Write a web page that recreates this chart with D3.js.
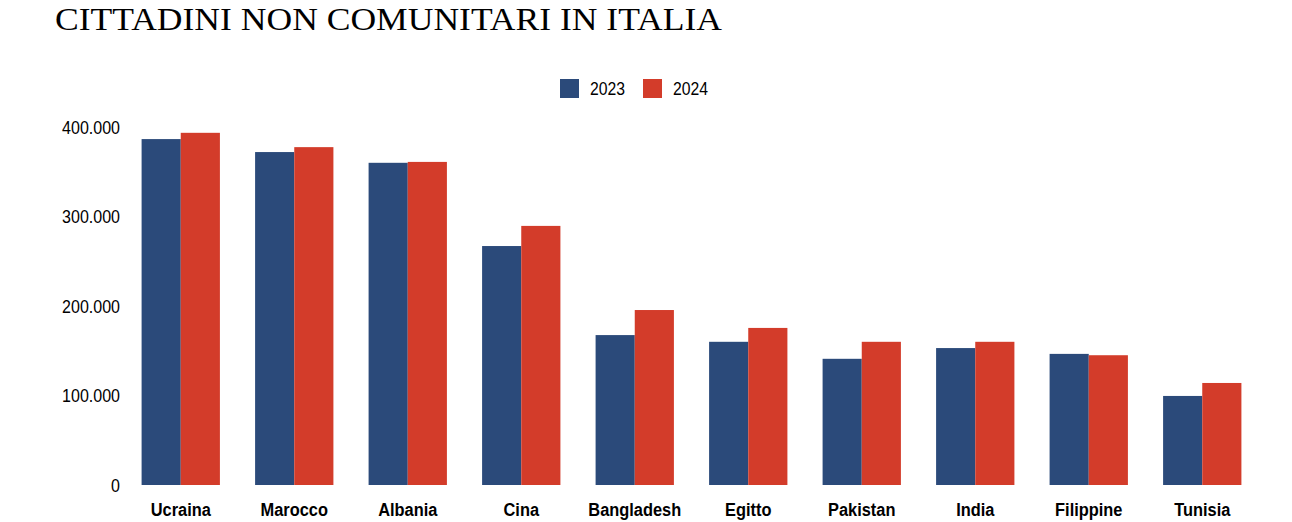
<!DOCTYPE html>
<html>
<head>
<meta charset="utf-8">
<script src="https://cdn.jsdelivr.net/npm/d3@7"></script>
<style>
  body { margin: 0; background: #fff; }
  svg text { fill: #000; }
</style>
</head>
<body>
<svg width="1292" height="522"></svg>
<script>
// Data
var countries = ["Ucraina", "Marocco", "Albania", "Cina", "Bangladesh", "Egitto", "Pakistan", "India", "Filippine", "Tunisia"];
var years = ["2023", "2024"];
var values2023 = [386500, 372000, 360000, 267000, 167500, 160000, 141000, 153000, 146500, 99500];
var values2024 = [393500, 377500, 361000, 289500, 195500, 175500, 160000, 160000, 145000, 114000];
var yTicks = [0, 100000, 200000, 300000, 400000];

var svg = d3.select("svg"),
    width = +svg.attr("width"),
    height = +svg.attr("height");

var sansFont = "'Liberation Sans', Arial, sans-serif";

// squeeze text to look like a narrow font
function narrow(sel, k) {
  sel.each(function(){
    var len = this.getComputedTextLength();
    d3.select(this)
      .attr("textLength", len * k)
      .attr("lengthAdjust", "spacingAndGlyphs");
  });
}

var color = d3.scaleOrdinal().domain(years).range(["#2b4a7a", "#d33c2a"]);

// Scales
var x = d3.scaleBand()
    .domain(countries)
    .range([124, 1259])
    .paddingInner(0.31)
    .paddingOuter(0.155);

var x1 = d3.scaleBand()
    .domain(years)
    .range([0, x.bandwidth()]);

var y = d3.scaleLinear()
    .domain([0, 400000])
    .range([485, 127]);

// Title
svg.append("text")
    .attr("x", 55)
    .attr("y", 30)
    .attr("textLength", 667)
    .attr("lengthAdjust", "spacingAndGlyphs")
    .style("font-family", "'Liberation Serif', 'DejaVu Serif', serif")
    .style("font-size", "32px")
    .text("CITTADINI NON COMUNITARI IN ITALIA");

// Legend
var legend = svg.append("g")
    .selectAll("g")
    .data(years)
    .enter()
    .append("g")
      .attr("transform", function(d, i){ return "translate(" + (560 + i * 83) + ",79)" });

legend.append("rect")
    .attr("width", 19)
    .attr("height", 19)
    .style("fill", function(d){ return color(d) });

legend.append("text")
    .attr("x", 30)
    .attr("y", 16)
    .style("font-family", sansFont)
    .style("font-size", "18px")
    .text(function(d){ return d })
    .call(narrow, 0.875);

// Y axis
var fmt = d3.formatLocale({decimal: ",", thousands: ".", grouping: [3], currency: ["", "€"]}).format(",d");
var yAxis = svg.append("g")
    .attr("transform", "translate(120,0)")
    .call(d3.axisLeft(y).tickValues(yTicks).tickFormat(fmt).tickSize(0).tickPadding(0));
yAxis.select(".domain").remove();
yAxis.selectAll("text")
    .style("font-family", sansFont)
    .style("font-size", "18px")
    .attr("dy", "0.35em")
    .call(narrow, 0.89);

// Bars
var rows = countries.map(function(c, i){
  return {country: c, vals: [{year: "2023", value: values2023[i]}, {year: "2024", value: values2024[i]}]};
});

var groups = svg.append("g")
    .selectAll("g")
    .data(rows)
    .enter()
    .append("g")
      .attr("transform", function(d){ return "translate(" + x(d.country) + ",0)" });

groups.selectAll("rect")
    .data(function(d){ return d.vals })
    .enter()
    .append("rect")
      .attr("x", function(d){ return x1(d.year) })
      .attr("y", function(d){ return y(d.value) })
      .attr("width", x1.bandwidth())
      .attr("height", function(d){ return y(0) - y(d.value) })
      .style("fill", function(d){ return color(d.year) });

// X axis
var xAxis = svg.append("g")
    .attr("transform", "translate(0,485)")
    .call(d3.axisBottom(x).tickSize(0).tickPadding(0));
xAxis.select(".domain").remove();
xAxis.selectAll("text")
    .attr("y", 25)
    .attr("dy", "0.35em")
    .style("font-family", sansFont)
    .style("font-weight", "bold")
    .style("font-size", "18px")
    .call(narrow, 0.91);
</script>
</body>
</html>
